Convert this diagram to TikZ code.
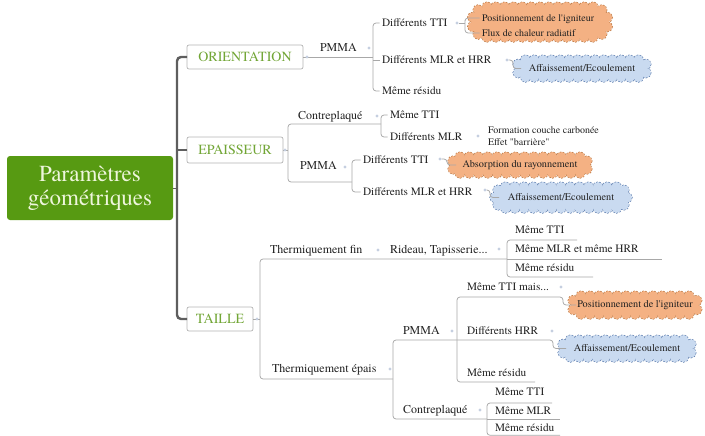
\documentclass[tikz,border=0pt]{standalone}
\usepackage{fontspec}
\setmainfont{texgyretermes}[Extension=.otf, UprightFont=*-regular, BoldFont=*-bold, ItalicFont=*-italic, BoldItalicFont=*-bolditalic]
\usetikzlibrary{calc,backgrounds}
\definecolor{rootgreen}{HTML}{579A12}
\definecolor{roottext}{HTML}{EEF6DC}
\definecolor{boxtext}{HTML}{72A636}
\definecolor{boxedge}{HTML}{B4B4B4}
\definecolor{trunkc}{HTML}{5E5E5E}
\definecolor{branchc}{HTML}{A8A8A8}
\definecolor{markc}{HTML}{C5CFE0}
\definecolor{orfill}{HTML}{F4B183}
\definecolor{oredge}{HTML}{B8743E}
\definecolor{blfill}{HTML}{C9DAF0}
\definecolor{bledge}{HTML}{5677AA}
\definecolor{txt}{HTML}{222222}
% scalloped stadium: centre x, centre y, base width, base height, fill, edge
\newcommand\cloudshape[6]{%
  \pgfmathsetmacro\clR{#4/2}%
  \pgfmathsetmacro\clL{#3/2-#4/2}%
  \pgfmathtruncatemacro\clNs{max(1,round(2*\clL/9))}%
  \pgfmathtruncatemacro\clNe{max(2,round(pi*\clR/9))}%
  \pgfmathtruncatemacro\clNm{\clNe-1}%
  \foreach \clpass in {1,2}{%
    \ifnum\clpass=1\relax
      \tikzset{clcirc/.style={draw=#6, line width=1.2pt, dash pattern=on 1.8pt off 1.2pt}}%
    \else
      \tikzset{clcirc/.style={fill=#5}}%
    \fi
    \foreach \i in {0,...,\clNs}{%
      \pgfmathsetmacro\clX{#1-\clL+2*\clL*\i/\clNs}%
      \path[clcirc] (\clX,{#2-\clR}) circle[radius=5];
      \path[clcirc] (\clX,{#2+\clR}) circle[radius=5];
    }%
    \foreach \j in {1,...,\clNm}{%
      \pgfmathsetmacro\clA{180*\j/\clNe}%
      \path[clcirc] ({#1+\clL+\clR*sin(\clA)},{#2-\clR*cos(\clA)}) circle[radius=5];
      \path[clcirc] ({#1-\clL-\clR*sin(\clA)},{#2+\clR*cos(\clA)}) circle[radius=5];
    }%
  }%
  \fill[#5, rounded corners=\clR pt] ({#1-#3/2},{#2-#4/2}) rectangle ({#1+#3/2},{#2+#4/2});
}
\begin{document}
\begin{tikzpicture}[x=1pt,y=-1pt,
 every node/.style={inner sep=0pt, outer sep=0pt},
 rootbox/.style={fill=rootgreen, rounded corners=3pt, text=roottext, minimum width=166pt, minimum height=64pt, align=center, font=\fontsize{23}{24}\selectfont},
 catbox/.style={draw=boxedge, fill=white, rounded corners=2pt, line width=0.7pt, text=boxtext, font=\fontsize{14}{16}\selectfont},
 lvtwo/.style={anchor=west, outer xsep=2.5pt, text height=7pt, text depth=0pt, font=\fontsize{12}{14}\selectfont, text=txt},
 lvthree/.style={anchor=west, outer xsep=2.5pt, text height=7pt, text depth=0pt, font=\fontsize{11.3}{13}\selectfont, text=txt},
 small/.style={anchor=west, outer xsep=2.5pt, text height=6.5pt, text depth=0pt, font=\fontsize{10}{12}\selectfont, text=txt},
 cloudn/.style={font=\fontsize{10.3}{12}\selectfont, text=txt, align=center},
 trunkline/.style={draw=trunkc, line width=2.4pt, rounded corners=4pt},
 stub/.style={draw=trunkc, line width=0.8pt},
 conn/.style={draw=branchc, line width=0.75pt, rounded corners=3pt},
 dot/.style={circle, fill=markc, minimum size=3.2pt},
]
\useasboundingbox (0,0) rectangle (705,436);

% root and categories
\node[rootbox] (root) at (90,188) {Paramètres\\géométriques};
\node[catbox, minimum width=116pt, minimum height=24pt] (ori) at (245,57) {ORIENTATION};
\node[catbox, minimum width=96pt, minimum height=26pt] (epa) at (235,150) {EPAISSEUR};
\node[catbox, minimum width=66pt, minimum height=24pt] (tai) at (220,319) {TAILLE};

\coordinate (tk) at (177,188);
\draw[trunkline] (ori.west) -| (tk) |- (tai.west);
\draw[trunkline] (epa.west) -- (epa.west -| tk);
\draw[stub] (root.east) -- (tk);

% ---------------- ORIENTATION
\node[lvtwo] (oriP) at (317.5,48) {PMMA};
\coordinate (ob) at (373,57);
\draw[conn] (ori.east) -- (ob);
\node[lvthree] (o1) at (379.5,23) {Différents TTI};
\node[lvthree] (o2) at (379.5,60) {Différents MLR et HRR};
\node[lvthree] (o3) at (379.5,91) {Même résidu};
\draw[conn] (o1.west) -| (ob) |- (o3.west);
\draw[conn] (o2.west) -- (o2.west -| ob);

\node[cloudn, minimum width=140pt, minimum height=34pt] (oc1) at (540,22) {};
\node[small] (l1) at (479.5,18) {Positionnement de l\textquotesingle igniteur};
\node[small] (l2) at (479.5,33) {Flux de chaleur radiatif};
\coordinate (lb) at (465,23);
\node[dot] (m2) at (457,23) {};
\draw[conn] (l1.west) -| (lb) |- (l2.west);
\draw[conn] (m2) -- (lb);

\node[cloudn, minimum width=134pt, minimum height=21pt] (bc1) at (582,68.5) {Affaissement/Ecoulement};
\node[dot] (m3) at (507,60) {};
\draw[conn] (m3) -| ($(bc1.west)+(-2,0)$) -- ($(bc1.west)+(6,0)$);

% ---------------- EPAISSEUR
\coordinate (eb) at (288,150);
\node[lvtwo] (eC) at (295.5,116) {Contreplaqué};
\node[lvtwo] (eP) at (297.5,166) {PMMA};
\coordinate (eb2) at (381,124);
\coordinate (eb3) at (352,182);
\draw[conn] (epa.east) -- (eb);
\draw[conn] (eb2) -| (eb) |- (eb3);
\node[lvthree] (e11) at (387.5,115) {Même TTI};
\node[lvthree] (e12) at (387.5,137) {Différents MLR};
\draw[conn] (e11.west) -| (eb2) |- (e12.west);
\node[small] (f1) at (485.5,130) {Formation couche carbonée};
\node[small] (f2) at (485.5,142) {Effet \textquotedbl barrière\textquotedbl};
\node[lvthree] (e21) at (360.5,160) {Différents TTI};
\node[lvthree] (e22) at (360.5,192) {Différents MLR et HRR};
\draw[conn] (e21.west) -| (eb3) |- (e22.west);
\node[cloudn, minimum width=140pt, minimum height=20pt] (oc2) at (520,165) {Absorption du rayonnement};
\node[cloudn, minimum width=136pt, minimum height=25pt] (bc2) at (561,197.5) {Affaissement/Ecoulement};
\node[dot] (mE3) at (440,159) {};
\node[dot] (mE4) at (485,190) {};
\draw[conn] (mE3) -| ($(oc2.west)+(-3,0)$) -- ($(oc2.west)+(6,0)$);
\draw[conn] (mE4) -| ($(bc2.west)+(-3,0)$) -- ($(bc2.west)+(6,0)$);

% ---------------- TAILLE
\coordinate (tb) at (260,319);
\coordinate (rb) at (507,259);
\coordinate (teb) at (393,379);
\draw[conn] (tai.east) -- (tb);
\draw[conn] (rb) -| (tb) |- (teb);
\node[lvtwo] (tF) at (267.5,250) {Thermiquement fin};
\node[lvtwo] (tR) at (387.5,250) {Rideau, Tapisserie...};
\node[lvthree] (r1) at (512.5,230) {Même TTI};
\node[lvthree] (r2) at (512.5,249) {Même MLR et même HRR};
\node[lvthree] (r3) at (512.5,268) {Même résidu};
\coordinate (r1e) at (577,240);
\coordinate (r2e) at (662,259);
\coordinate (r3e) at (593,277);
\draw[conn] (r1e) -| (rb) |- (r3e);
\draw[conn] (rb) -- (r2e);

\node[lvtwo] (tE) at (269.5,369) {Thermiquement épais};
\node[lvtwo] (pP) at (400.5,331) {PMMA};
\node[lvtwo] (cC) at (400.5,410) {Contreplaqué};
\coordinate (pj) at (393,340);
\coordinate (cj) at (487,419);
\coordinate (q2) at (553,340);
\node[cloudn, minimum width=130pt, minimum height=22pt] (oc3) at (635,305) {Positionnement de l\textquotesingle igniteur};
\node[cloudn, minimum width=134pt, minimum height=21pt] (bc3) at (627,348.5) {Affaissement/Ecoulement};
\draw[conn] ($(bc3.west)+(6,0)$) -| (q2) -- (pj) |- (cj);

\coordinate (pb) at (457,340);
\coordinate (q1) at (563,297);
\coordinate (p3e) at (535,382);
\node[lvthree] (p1) at (464.5,287) {Même TTI mais...};
\node[lvthree] (p2) at (464.5,331) {Différents HRR};
\node[lvthree] (p3) at (464.5,373) {Même résidu};
\draw[conn] ($(oc3.west)+(6,0)$) -| (q1) -| (pb) |- (p3e);

\node[lvthree] (c1) at (492.5,392) {Même TTI};
\node[lvthree] (c2) at (492.5,411) {Même MLR};
\node[lvthree] (c3) at (492.5,428) {Même résidu};
\coordinate (c1e) at (552,403);
\coordinate (c2e) at (560,419);
\coordinate (c3e) at (560,435.3);
\draw[conn] (c1e) -| (cj) |- (c3e);
\draw[conn] (cj) -- (c2e);

% clouds behind
\begin{pgfonlayer}{background}
\cloudshape{540}{22}{136}{30}{orfill}{oredge}
\cloudshape{582}{68.5}{130}{17}{blfill}{bledge}
\cloudshape{520}{165}{136}{16}{orfill}{oredge}
\cloudshape{561}{197.5}{132}{21}{blfill}{bledge}
\cloudshape{635}{305}{126}{18}{orfill}{oredge}
\cloudshape{627}{348.5}{130}{17}{blfill}{bledge}
\end{pgfonlayer}

% markers
\node[dot] (mo0) at (307,57) {};
\node[dot] (mo1) at (369,48) {};
\node[dot] (me0) at (285,150) {};
\node[dot] (me1) at (377,116) {};
\node[dot] (me2) at (478,136) {};
\node[dot] (me3) at (345,167) {};
\node[dot] (mt0) at (257,319) {};
\node[dot] (mt1) at (378,250) {};
\node[dot] (mt2) at (499,249) {};
\node[dot] (mt3) at (561,287) {};
\node[dot] (mt4) at (452,331) {};
\node[dot] (mt5) at (552,331) {};
\node[dot] (mt6) at (390,369) {};
\node[dot] (mt7) at (480,410) {};
\end{tikzpicture}
\end{document}
